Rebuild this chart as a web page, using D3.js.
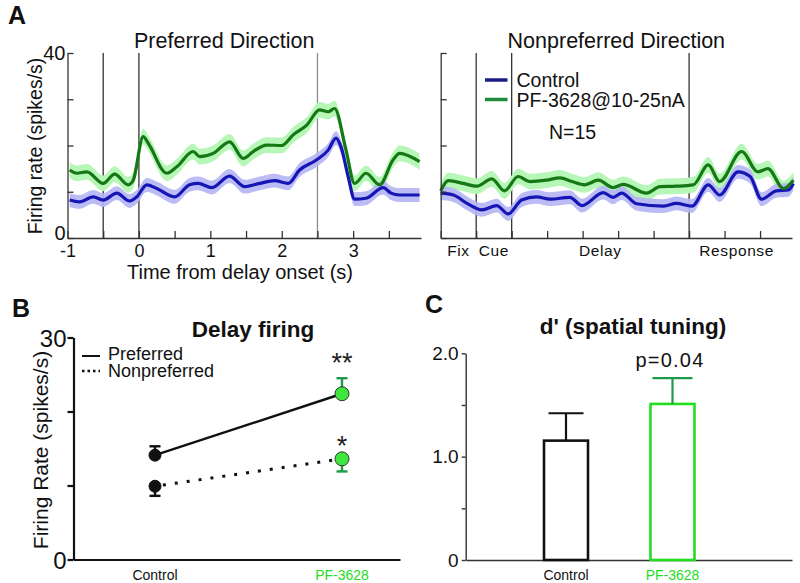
<!DOCTYPE html>
<html>
<head>
<meta charset="utf-8">
<script src="https://cdn.jsdelivr.net/npm/d3@7"></script>
<style>
body{margin:0;background:#fff}
svg, svg text{font-family:Arial,"Liberation Sans",sans-serif}
</style>
</head>
<body>
<svg id="fig" width="800" height="583"></svg>
<script>
// A: population PSTH, [time from delay onset (s), firing rate (spikes/s)]
var prefControl = [[-0.97,8.2],[-0.83,7.8],[-0.64,8.9],[-0.5,8.2],[-0.31,9.7],[-0.13,8.0],[-0.03,8.9],[0.11,11.5],[0.25,10.7],[0.5,8.9],[0.71,11.5],[0.83,11.8],[1.02,10.9],[1.27,13.4],[1.48,11.1],[1.69,11.8],[1.9,12.4],[2.09,11.8],[2.25,14.7],[2.49,16.9],[2.65,19.0],[2.76,21.6],[2.83,19.7],[2.93,13.3],[3.02,8.4],[3.18,8.6],[3.42,10.9],[3.53,9.7],[3.65,9.3],[3.93,9.3]]
var prefDrug = [[-0.97,14.7],[-0.87,14.0],[-0.73,14.3],[-0.5,11.8],[-0.34,13.8],[-0.15,11.5],[-0.08,12.5],[0.06,21.9],[0.13,20.5],[0.39,14.0],[0.53,15.4],[0.76,18.7],[0.85,17.6],[1.04,18.3],[1.27,20.8],[1.46,17.2],[1.6,18.7],[1.79,20.1],[2.0,20.0],[2.16,22.3],[2.35,24.4],[2.53,27.7],[2.65,27.3],[2.74,28.0],[2.9,19.0],[3.02,11.8],[3.18,14.0],[3.37,11.5],[3.56,16.9],[3.65,18.3],[3.93,16.5]]
var nonprefControl = [[-1.0,9.7],[-0.82,9.3],[-0.63,7.5],[-0.42,6.1],[-0.21,7.0],[-0.05,5.2],[0.14,8.2],[0.35,8.9],[0.54,8.4],[0.82,8.8],[0.99,7.0],[1.29,9.8],[1.43,8.8],[1.55,9.7],[1.76,7.4],[2.14,6.9],[2.32,7.5],[2.54,6.9],[2.77,11.5],[2.93,9.3],[3.19,14.3],[3.36,13.3],[3.52,8.4],[3.73,10.2],[3.9,10.4],[3.97,11.8]]
var nonprefDrug = [[-1.0,10.2],[-0.89,12.4],[-0.68,11.8],[-0.49,11.2],[-0.28,12.8],[-0.1,10.2],[0.09,13.3],[0.26,12.2],[0.49,12.5],[0.68,13.0],[0.85,12.2],[1.03,11.5],[1.22,12.5],[1.43,10.9],[1.57,11.6],[1.9,9.7],[2.09,11.1],[2.32,11.2],[2.56,11.5],[2.77,15.8],[2.93,12.2],[3.24,18.7],[3.47,14.3],[3.61,15.0],[3.83,10.7],[3.97,12.5]]
var semControl = 1.5
var semDrug = 1.7
var epochs = [-0.5, 0, 2.5]
var timeTicks = [-1, -0.5, 0, 0.5, 1, 1.5, 2, 2.5, 3, 3.5]
var rateTicks = [0, 10, 20, 30, 40]
var phaseNames = ['Fix', 'Cue', 'Delay', 'Response']
var phaseMid = [-0.75, -0.25, 1.25, 3.17]
var seriesNames = ['Control', 'PF-3628@10-25nA']

// B: delay-period firing, mean and SEM
var groups = ['Control', 'PF-3628']
var delayPref = [14.1, 22.4]
var delayPrefSem = [1.2, 2.1]
var delayNonpref = [9.9, 13.6]
var delayNonprefSem = [1.3, 1.7]
var stars = ['**', '*']

// C: d' spatial tuning
var dprime = [1.155, 1.51]
var dprimeSem = [0.265, 0.25]

var col = {
  blue: '#1616b4', blueBand: '#b4b4f4', blueKey: '#1c1c86',
  green: '#157815', greenBand: '#b6f6b6', greenKey: '#1e8a3c',
  lime: '#22dd22', limeDot: '#3ee63e', err: '#1f9a48', axis: '#333'
}
var sans = 'Arial, "Liberation Sans", sans-serif'
var boldFace = 'Lato, Arial, sans-serif'

var svg = d3.select('#fig')
svg.append('rect').attr('width', 800).attr('height', 583).attr('fill', '#fff')

function label(t, x, y, size, opts){
  opts = opts || {}
  return svg.append('text').text(t)
    .attr('x', x).attr('y', y)
    .attr('font-size', size)
    .attr('font-weight', opts.bold ? 'bold' : null)
    .attr('font-family', opts.family || sans)
    .attr('text-anchor', opts.anchor || 'middle')
    .attr('fill', opts.fill || '#111')
}

function styleAxis(g, w){
  g.attr('font-family', sans)
  g.select('.domain').attr('stroke', col.axis).attr('stroke-width', w)
  g.selectAll('.tick line').attr('stroke', col.axis).attr('stroke-width', w)
  g.selectAll('.tick text').attr('fill', '#111')
}

// ---- A ----
function drawPsth(r0, r1, title, ctrl, drug, isLeft){
  var x = d3.scaleLinear().domain([-1, 3.95]).range([r0, r1])
  var y = d3.scaleLinear().domain([0, 40]).range([238, 53])
  var g = svg.append('g')

  g.selectAll('line.epoch').data(epochs).join('line')
    .attr('x1', d => x(d)).attr('x2', d => x(d))
    .attr('y1', y(40)).attr('y2', y(0))
    .attr('stroke', (d, i) => isLeft && i == 2 ? '#8c8c8c' : '#333')
    .attr('stroke-width', 1.3)

  var band = sem => d3.area()
    .x(d => x(d[0])).y0(d => y(d[1] - sem)).y1(d => y(d[1] + sem))
    .curve(d3.curveMonotoneX)
  var line = d3.line().x(d => x(d[0])).y(d => y(d[1])).curve(d3.curveMonotoneX)

  g.append('path').attr('d', band(semDrug)(drug)).attr('fill', col.greenBand)
  g.append('path').attr('d', band(semControl)(ctrl)).attr('fill', col.blueBand).attr('fill-opacity', 0.9)
  g.append('path').attr('d', line(ctrl)).attr('fill', 'none').attr('stroke', col.blue).attr('stroke-width', 3.2)
  g.append('path').attr('d', line(drug)).attr('fill', 'none').attr('stroke', col.green).attr('stroke-width', 3.2)

  var ya = g.append('g').attr('transform', `translate(${x(-1)},0)`)
    .call(d3.axisLeft(y).tickValues(rateTicks).tickSizeInner(-6).tickSizeOuter(0).tickPadding(2)
      .tickFormat(d => isLeft && (d == 0 || d == 40) ? d : ''))
  ya.selectAll('.tick text').attr('font-size', 20).attr('dy', d => d == 0 ? '0.08em' : '0.3em')
  styleAxis(ya, 1.3)

  var xa = g.append('g').attr('transform', `translate(0,${y(0)})`)
    .call(d3.axisBottom(x).tickValues(timeTicks).tickSizeInner(-7).tickSizeOuter(0).tickPadding(6)
      .tickFormat(d => isLeft && Number.isInteger(d) ? d : ''))
  xa.selectAll('.tick text').attr('font-size', 18)
  styleAxis(xa, 1.3)

  label(title, (r0 + r1) / 2 - 20 + (isLeft ? 0 : 20), 48, 21.5)
  return x
}

drawPsth(67.5, 421, 'Preferred Direction', prefControl, prefDrug, true)
var xr = drawPsth(440.7, 792, 'Nonpreferred Direction', nonprefControl, nonprefDrug, false)

svg.append('g').selectAll('text').data(phaseNames).join('text')
  .text(d => d)
  .attr('x', (d, i) => xr(phaseMid[i])).attr('y', 256)
  .attr('text-anchor', 'middle').attr('font-size', 15.5).attr('letter-spacing', 0.6)
  .attr('font-family', sans).attr('fill', '#111')

label('Time from delay onset (s)', 240, 279, 20)
label('Firing rate (spikes/s)', 0, 0, 19.5).attr('transform', 'translate(42,146) rotate(-90)')
label('A', 17, 24, 25, {bold: true})

// legend
var key = svg.append('g')
key.selectAll('line').data(seriesNames).join('line')
  .attr('x1', 485).attr('x2', 507.5)
  .attr('y1', (d, i) => 80 + i * 19.5).attr('y2', (d, i) => 80 + i * 19.5)
  .attr('stroke', (d, i) => i ? col.greenKey : col.blueKey).attr('stroke-width', 3.5)
key.selectAll('text').data(seriesNames).join('text')
  .text(d => d)
  .attr('x', 516.5).attr('y', (d, i) => 87 + i * 20)
  .attr('font-size', 19.5).attr('font-family', sans).attr('fill', '#111')
label('N=15', 549, 139, 19.5, {anchor: 'start'})

// ---- B ----
var xb = d3.scalePoint().domain(groups).range([155, 342])
var yb = d3.scaleLinear().domain([0, 30]).range([559.5, 337.5])

var gb = svg.append('g')
var yab = gb.append('g').attr('transform', 'translate(73.5,0)')
  .call(d3.axisLeft(yb).tickValues([0, 10, 20, 30]).tickSizeInner(6).tickSizeOuter(0).tickPadding(1)
    .tickFormat(d => d == 0 || d == 30 ? d : ''))
yab.selectAll('.tick text').attr('font-size', 24).attr('dy', '0.36em')
styleAxis(yab, 2.2)
yab.select('.domain').attr('stroke', '#111')
yab.selectAll('.tick line').attr('stroke', '#111')

var xab = gb.append('g').attr('transform', `translate(0,${yb(0)})`)
  .call(d3.axisBottom(d3.scaleLinear().range([73.5, 400])).tickValues([]).tickSizeOuter(0))
styleAxis(xab, 2.2)
xab.select('.domain').attr('stroke', '#111')

gb.selectAll('text.grp').data(groups).join('text')
  .text(d => d)
  .attr('x', d => xb(d)).attr('y', 580)
  .attr('text-anchor', 'middle').attr('font-size', 14).attr('font-family', sans)
  .attr('fill', (d, i) => i ? col.lime : '#111')

var ptLine = d3.line().x((d, i) => xb(groups[i])).y(d => yb(d))
gb.append('path').attr('d', ptLine(delayPref)).attr('fill', 'none').attr('stroke', '#111').attr('stroke-width', 2.4)
gb.append('path').attr('d', ptLine(delayNonpref)).attr('fill', 'none').attr('stroke', '#111')
  .attr('stroke-width', 3).attr('stroke-dasharray', '3,9').attr('stroke-dashoffset', -8)

function errBars(vals, sems, dir){
  var e = gb.append('g').selectAll('g').data(vals).join('g')
    .attr('stroke', (d, i) => i ? col.err : '#111').attr('stroke-width', 2.4)
  e.append('line')
    .attr('x1', (d, i) => xb(groups[i])).attr('x2', (d, i) => xb(groups[i]))
    .attr('y1', d => yb(d)).attr('y2', (d, i) => yb(d + dir * sems[i]))
  e.append('line')
    .attr('x1', (d, i) => xb(groups[i]) - 5.5).attr('x2', (d, i) => xb(groups[i]) + 5.5)
    .attr('y1', (d, i) => yb(d + dir * sems[i])).attr('y2', (d, i) => yb(d + dir * sems[i]))
}
errBars(delayPref, delayPrefSem, 1)
errBars(delayNonpref, delayNonprefSem, -1)

;[delayPref, delayNonpref].forEach(vals => {
  gb.append('g').selectAll('circle').data(vals).join('circle')
    .attr('cx', (d, i) => xb(groups[i])).attr('cy', d => yb(d))
    .attr('r', (d, i) => i ? 7 : 6)
    .attr('fill', (d, i) => i ? col.limeDot : '#111')
    .attr('stroke', (d, i) => i ? '#2a3a2a' : '#111').attr('stroke-width', 1)
})

gb.selectAll('text.star').data(stars).join('text')
  .text(d => d)
  .attr('x', xb(groups[1])).attr('y', (d, i) => i ? 455 : 372)
  .attr('text-anchor', 'middle').attr('font-size', 27).attr('font-family', sans).attr('fill', '#222')

label('Delay firing', 253, 337, 22.5, {bold: true, family: boldFace})
label('Firing Rate (spikes/s)', 0, 0, 21).attr('transform', 'translate(48,450) rotate(-90)')
label('B', 21, 317, 25, {bold: true})

var keyB = gb.append('g')
keyB.selectAll('line').data(['Preferred', 'Nonpreferred']).join('line')
  .attr('x1', 82).attr('x2', 100)
  .attr('y1', (d, i) => 356 + i * 15).attr('y2', (d, i) => 356 + i * 15)
  .attr('stroke', '#111').attr('stroke-width', (d, i) => i ? 2.5 : 2)
  .attr('stroke-dasharray', (d, i) => i ? '2.5,3' : null)
keyB.selectAll('text').data(['Preferred', 'Nonpreferred']).join('text')
  .text(d => d)
  .attr('x', 108).attr('y', (d, i) => 360 + i * 17)
  .attr('font-size', 18).attr('font-family', sans).attr('fill', '#111')

// ---- C ----
var xc = d3.scalePoint().domain(groups).range([566, 672.5])
var yc = d3.scaleLinear().domain([0, 2]).range([560, 353.3])
var barW = 44
var gc = svg.append('g')

var yac = gc.append('g').attr('transform', 'translate(465.7,0)')
  .call(d3.axisLeft(yc).tickValues([0, 0.5, 1, 1.5, 2]).tickSizeInner(4).tickSizeOuter(0).tickPadding(3)
    .tickFormat(d => d == 0 ? '0' : Number.isInteger(d) ? d.toFixed(1) : ''))
yac.selectAll('.tick text').attr('font-size', 19).attr('dy', '0.33em')
styleAxis(yac, 1.4)

var xac = gc.append('g').attr('transform', `translate(0,${yc(0)})`)
  .call(d3.axisBottom(d3.scaleLinear().range([465.7, 792])).tickValues([]).tickSizeOuter(0))
styleAxis(xac, 1.4)

gc.selectAll('rect').data(dprime).join('rect')
  .attr('x', (d, i) => xc(groups[i]) - barW / 2).attr('width', barW)
  .attr('y', d => yc(d)).attr('height', d => yc(0) - yc(d))
  .attr('fill', '#fff').attr('stroke', (d, i) => i ? col.lime : '#111').attr('stroke-width', 2.6)

var ec = gc.append('g').selectAll('g').data(dprime).join('g')
  .attr('stroke', (d, i) => i ? col.err : '#111').attr('stroke-width', 2.2)
ec.append('line')
  .attr('x1', (d, i) => xc(groups[i])).attr('x2', (d, i) => xc(groups[i]))
  .attr('y1', d => yc(d)).attr('y2', (d, i) => yc(d + dprimeSem[i]))
ec.append('line')
  .attr('x1', (d, i) => xc(groups[i]) - (i ? 20 : 17.5)).attr('x2', (d, i) => xc(groups[i]) + (i ? 20 : 17.5))
  .attr('y1', (d, i) => yc(d + dprimeSem[i])).attr('y2', (d, i) => yc(d + dprimeSem[i]))

gc.selectAll('text.grp').data(groups).join('text')
  .text(d => d)
  .attr('x', d => xc(d)).attr('y', 580)
  .attr('text-anchor', 'middle').attr('font-size', 14).attr('font-family', sans)
  .attr('fill', (d, i) => i ? col.lime : '#111')

label("d' (spatial tuning)", 633, 334, 22.5, {bold: true, family: boldFace})
label('p=0.04', 670, 367, 20).attr('letter-spacing', 1.2)
label('C', 434, 313, 25, {bold: true})
</script>
</body>
</html>
